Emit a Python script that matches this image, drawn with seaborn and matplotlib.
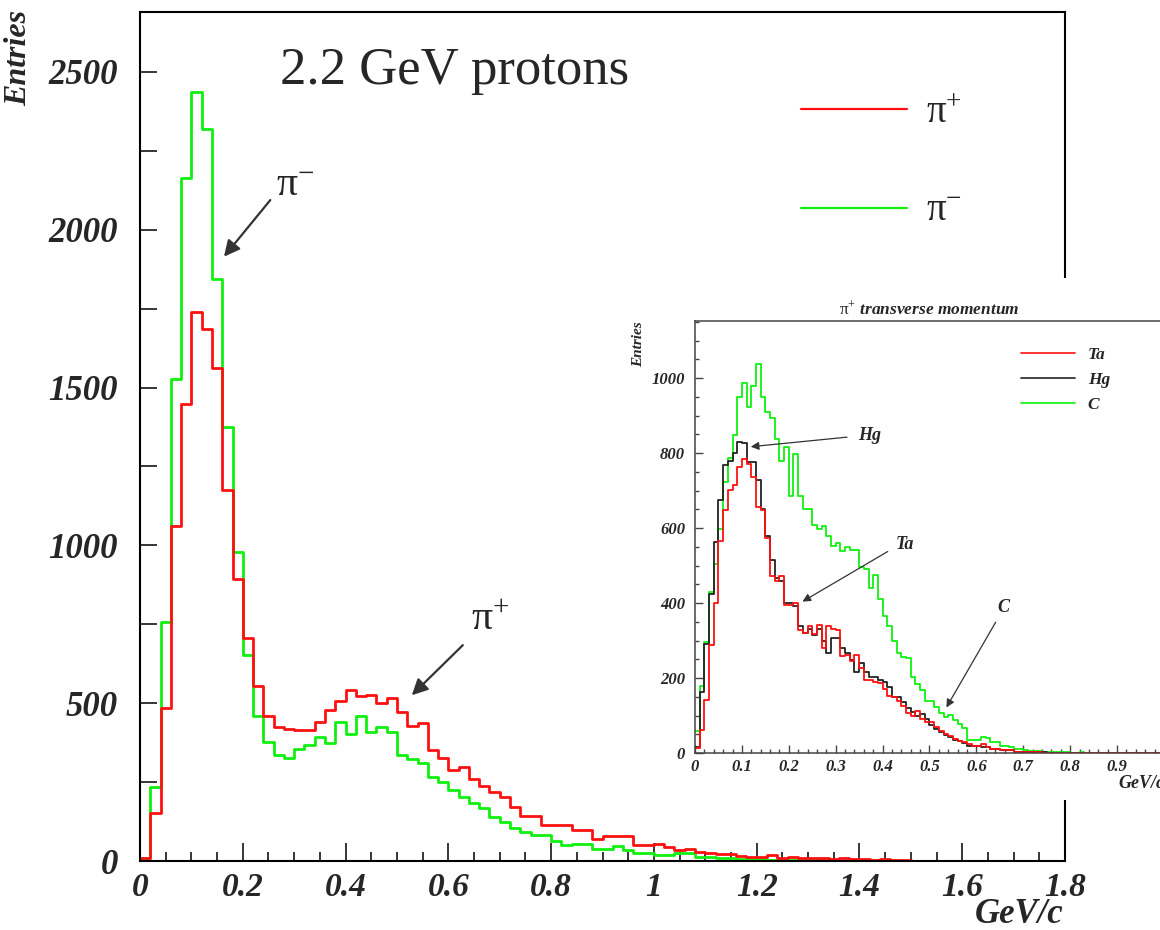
import numpy as np
import pandas as pd
import matplotlib
matplotlib.use("Agg")
import matplotlib.pyplot as plt
import seaborn as sns
from matplotlib.lines import Line2D
from matplotlib.patches import Rectangle
from matplotlib.ticker import MultipleLocator

# ---------------- data ----------------
# main plot: 2.2 GeV protons, bins of 0.02 GeV/c from 0 to 1.8
main_edges = [round(v, 4) for v in np.linspace(0.0, 1.8, 91)]
pi_plus = [10, 152, 485, 1060, 1449, 1739, 1686, 1562, 1176, 894,
           707, 555, 459, 426, 417, 414, 414, 441, 478, 508,
           543, 524, 527, 500, 516, 472, 429, 436, 352, 326,
           289, 297, 261, 237, 218, 203, 171, 142, 142, 115,
           115, 115, 97, 97, 71, 78, 78, 78, 50, 50,
           53, 44, 34, 39, 28, 25, 23, 22, 16, 13,
           13, 18, 10, 12, 9, 8, 10, 6, 8, 5,
           6, 4, 5, 3, 2, 0, 0, 0, 0, 0,
           0, 0, 0, 0, 0, 0, 0, 0, 0, 0]
pi_minus = [10, 235, 757, 1528, 2164, 2438, 2318, 1843, 1374, 980,
            654, 459, 376, 335, 326, 356, 368, 392, 375, 440,
            403, 461, 410, 424, 410, 336, 324, 310, 266, 250,
            226, 203, 185, 168, 139, 123, 104, 92, 81, 81,
            64, 50, 55, 55, 39, 39, 46, 34, 25, 25,
            20, 18, 25, 25, 12, 12, 8, 10, 6, 5,
            6, 4, 4, 3, 5, 3, 2, 2, 1, 1,
            0, 0, 0, 0, 0, 0, 0, 0, 0, 0,
            0, 0, 0, 0, 0, 0, 0, 0, 0, 0]
main_xticks = [0, 0.2, 0.4, 0.6, 0.8, 1.0, 1.2, 1.4, 1.6, 1.8]
main_xticklabels = ["0", "0.2", "0.4", "0.6", "0.8", "1", "1.2", "1.4", "1.6", "1.8"]
main_yticks = [0, 500, 1000, 1500, 2000, 2500]
main_yticklabels = ["0", "500", "1000", "1500", "2000", "2500"]

# inset: pi+ transverse momentum, bins of 0.01 GeV/c from 0 to 1.0
inset_edges = [round(v, 4) for v in np.linspace(0.0, 1.0, 101)]
carbon = [58, 180, 297, 430, 505, 598, 722, 786, 848, 950,
          986, 922, 980, 1037, 950, 910, 893, 838, 779, 816,
          686, 798, 686, 652, 652, 607, 597, 605, 578, 552,
          560, 540, 550, 542, 542, 496, 491, 440, 474, 410,
          366, 338, 298, 268, 255, 254, 203, 183, 169, 139,
          138, 124, 106, 97, 101, 88, 77, 67, 36, 36,
          36, 44, 40, 29, 29, 20, 20, 16, 12, 12,
          8, 6, 5, 5, 4, 3, 3, 3, 2, 2,
          1, 1, 2, 1, 1, 1, 0, 1, 1, 0,
          1, 0, 0, 1, 0, 0, 1, 0, 0, 0]
mercury = [15, 162, 290, 424, 562, 676, 769, 780, 800, 830,
           828, 775, 775, 729, 650, 579, 516, 468, 458, 400,
           400, 392, 339, 319, 330, 315, 330, 300, 266, 306,
           306, 280, 266, 248, 217, 239, 217, 204, 204, 195,
           190, 175, 150, 150, 135, 120, 110, 100, 104, 90,
           75, 65, 55, 48, 42, 36, 31, 27, 20, 18,
           18, 15, 15, 11, 11, 7, 7, 7, 4, 4,
           3, 3, 2, 2, 2, 1, 1, 1, 0, 1,
           1, 0, 1, 0, 0, 1, 0, 0, 0, 1,
           0, 0, 0, 0, 1, 0, 0, 0, 0, 0]
tantalum = [13, 62, 142, 289, 400, 565, 649, 702, 714, 764,
            785, 772, 736, 657, 649, 573, 471, 458, 473, 396,
            396, 400, 328, 320, 338, 318, 342, 280, 338, 330,
            329, 258, 262, 245, 262, 227, 196, 196, 190, 187,
            170, 152, 150, 140, 125, 107, 100, 111, 90, 84,
            84, 70, 60, 52, 45, 38, 33, 29, 25, 20,
            20, 24, 15, 12, 12, 7, 7, 7, 4, 4,
            3, 2, 2, 2, 1, 1, 1, 1, 0, 0,
            1, 0, 0, 0, 1, 0, 0, 0, 0, 0,
            0, 0, 0, 0, 0, 0, 0, 0, 0, 0]
inset_xticks = [0, 0.1, 0.2, 0.3, 0.4, 0.5, 0.6, 0.7, 0.8, 0.9]
inset_xticklabels = ["0", "0.1", "0.2", "0.3", "0.4", "0.5", "0.6", "0.7", "0.8", "0.9"]
inset_yticks = [0, 200, 400, 600, 800, 1000]
inset_yticklabels = ["0", "200", "400", "600", "800", "1000"]

RED = "#ff1010"
GREEN = "#10f010"
BLACK = "#222222"
PI_PLUS = r"$\mathrm{\pi}^{+}$"
PI_MINUS = r"$\mathrm{\pi}^{-}$"

# ---------------- style ----------------
sns.set_style("ticks")
plt.rcParams.update({
    "font.family": ["Liberation Serif", "DejaVu Serif"],
    "font.weight": "bold",
    "font.style": "italic",
    "axes.labelweight": "bold",
    "axes.titleweight": "bold",
    "mathtext.fontset": "custom",
    "mathtext.rm": "Liberation Serif:style=normal:weight=normal",
    "mathtext.it": "Liberation Serif:style=italic:weight=normal",
    "mathtext.bf": "Liberation Serif:style=normal:weight=bold",
    "mathtext.default": "rm",
    "axes.linewidth": 1.5,
    "xtick.direction": "in",
    "ytick.direction": "in",
    "axes.edgecolor": "black",
})

fig = plt.figure(figsize=(11.6, 9.3), dpi=100)
W, H = 1160.0, 930.0

# ---------------- main axes ----------------
ax = fig.add_axes([140 / W, (H - 861) / H, 925 / W, (861 - 12) / H])
main_centers = [(a + b) / 2 for a, b in zip(main_edges[:-1], main_edges[1:])]
main_df = pd.DataFrame({"pt": main_centers, "pi_plus": pi_plus, "pi_minus": pi_minus})
sns.histplot(data=main_df, x="pt", weights="pi_minus", bins=main_edges, element="step",
             fill=False, color=GREEN, linewidth=2.0, ax=ax)
sns.histplot(data=main_df, x="pt", weights="pi_plus", bins=main_edges, element="step",
             fill=False, color=RED, linewidth=2.0, ax=ax)
ax.set_xlim(0, 1.8)
ax.set_ylim(0, 2690)
ax.set_xticks(main_xticks)
ax.set_xticklabels(main_xticklabels)
ax.set_yticks(main_yticks)
ax.set_yticklabels(main_yticklabels)
ax.xaxis.set_minor_locator(MultipleLocator(0.05))
ax.yaxis.set_minor_locator(MultipleLocator(250))
ax.tick_params(axis="x", which="major", length=13, width=1.3, labelsize=24, pad=8,
               top=False)
ax.tick_params(axis="x", which="minor", length=6.5, width=1.3, top=False)
ax.tick_params(axis="y", which="both", length=12, width=1.3, labelsize=25, pad=16,
               right=False)
ax.set_xlabel("GeV/c", fontsize=25, fontweight="bold", loc="right")
ax.xaxis.set_label_coords(0.998, -0.043)
ax.set_ylabel("Entries", fontsize=23, fontweight="bold", loc="top")
ax.yaxis.set_label_coords(-0.1157, 1.002)

ax.text(280 / W, 1 - 84 / H, "2.2 GeV protons", transform=fig.transFigure,
        fontsize=38, fontweight="normal", fontstyle="normal", va="baseline", ha="left")

arrow_kw = dict(arrowstyle="-|>", color="#333333", lw=1.6, mutation_scale=24)
ax.annotate("", xy=(0.160, 1908), xytext=(0.257, 2101), arrowprops=arrow_kw)
ax.text(0.302, 2139, PI_MINUS, fontsize=30, ha="center", va="center")
ax.annotate("", xy=(0.525, 519), xytext=(0.632, 690), arrowprops=arrow_kw)
ax.text(0.681, 763, PI_PLUS, fontsize=30, ha="center", va="center")

main_handles = [Line2D([], [], color=RED, lw=1.6), Line2D([], [], color=GREEN, lw=1.6)]
leg = ax.legend(main_handles, [PI_PLUS, PI_MINUS], loc="upper left",
                bbox_to_anchor=(801 / W, 1 - 95 / H), bbox_transform=fig.transFigure,
                frameon=False, fontsize=28, handlelength=2.72, handletextpad=0.5,
                labelspacing=1.58, borderpad=0, borderaxespad=0)

# ---------------- white panel behind inset ----------------
panel = Rectangle((615 / W, (H - 800) / H), (W - 615) / W, (800 - 278) / H,
                  transform=fig.transFigure, facecolor="white", edgecolor="none", zorder=1)
fig.add_artist(panel)

# ---------------- inset axes ----------------
ins = fig.add_axes([695 / W, (H - 753) / H, 469 / W, (753 - 321) / H], zorder=2)
inset_centers = [(a + b) / 2 for a, b in zip(inset_edges[:-1], inset_edges[1:])]
inset_df = pd.DataFrame({"pt": inset_centers, "C": carbon, "Hg": mercury, "Ta": tantalum})
sns.histplot(data=inset_df, x="pt", weights="C", bins=inset_edges, element="step",
             fill=False, color=GREEN, linewidth=1.3, ax=ins)
sns.histplot(data=inset_df, x="pt", weights="Hg", bins=inset_edges, element="step",
             fill=False, color=BLACK, linewidth=1.3, ax=ins)
sns.histplot(data=inset_df, x="pt", weights="Ta", bins=inset_edges, element="step",
             fill=False, color=RED, linewidth=1.3, ax=ins)
ins.set_xlim(0, 1.0)
ins.set_ylim(0, 1152)
ins.set_xticks(inset_xticks)
ins.set_xticklabels(inset_xticklabels)
ins.set_yticks(inset_yticks)
ins.set_yticklabels(inset_yticklabels)
ins.xaxis.set_minor_locator(MultipleLocator(0.02))
ins.yaxis.set_minor_locator(MultipleLocator(50))
for s in ins.spines.values():
    s.set_linewidth(1.1)
    s.set_color("#444444")
ins.tick_params(axis="both", which="major", length=6, width=1.0, labelsize=12,
                color="#444444", top=False, right=False)
ins.tick_params(axis="both", which="minor", length=3, width=1.0, color="#444444",
                top=False, right=False)
ins.tick_params(axis="x", pad=4)
ins.tick_params(axis="y", pad=7)
ins.set_title(r"$\mathrm{\pi}^{+}$ transverse momentum", fontsize=12.5,
              fontweight="bold", pad=5)
ins.set_xlabel("GeV/c", fontsize=13, fontweight="bold", loc="right")
ins.xaxis.set_label_coords(1.0, -0.052)
ins.set_ylabel("Entries", fontsize=11, fontweight="bold", loc="top")
ins.yaxis.set_label_coords(-0.107, 1.0)

ins_handles = [Line2D([], [], color=RED, lw=1.2), Line2D([], [], color=BLACK, lw=1.2),
               Line2D([], [], color=GREEN, lw=1.2)]
ins.legend(ins_handles, ["Ta", "Hg", "C"], loc="upper left",
           bbox_to_anchor=(1021 / W, 1 - 347 / H), bbox_transform=fig.transFigure,
           frameon=False, fontsize=12.5, handlelength=3.1, handletextpad=0.75,
           labelspacing=0.5, borderpad=0, borderaxespad=0)

small_arrow = dict(arrowstyle="-|>", color="#333333", lw=0.9, mutation_scale=12)
ins.annotate("", xy=(0.113, 816), xytext=(0.330, 843), arrowprops=small_arrow)
ins.text(0.373, 848, "Hg", fontsize=13, ha="center", va="center")
ins.annotate("", xy=(0.224, 400), xytext=(0.416, 541), arrowprops=small_arrow)
ins.text(0.448, 555, "Ta", fontsize=13, ha="center", va="center")
ins.annotate("", xy=(0.533, 115), xytext=(0.644, 355), arrowprops=small_arrow)
ins.text(0.657, 389, "C", fontsize=13, ha="center", va="center")

fig.savefig("out.png", dpi=100)
